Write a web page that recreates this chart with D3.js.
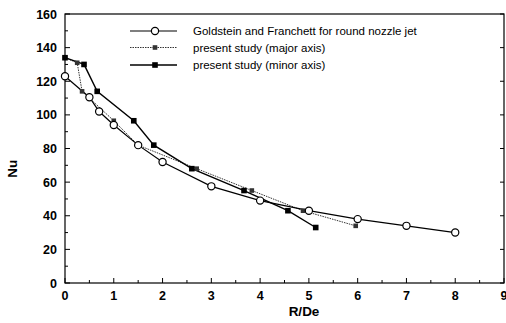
<!DOCTYPE html>
<html>
<head>
<meta charset="utf-8">
<script src="https://cdn.jsdelivr.net/npm/d3@7"></script>
<style>
  body { margin: 0; background: #fff; }
  svg text { font-family: "Liberation Sans", Arial, sans-serif; }
  .tick-lbl { font-weight: bold; font-size: 12.5px; }
</style>
</head>
<body>
<svg id="chart"></svg>
<script>
// values
var goldsteinX = [0, 0.5, 0.7, 1, 1.5, 2, 3, 4, 5, 6, 7, 8];
var goldsteinY = [123, 110.5, 102, 94, 82, 72, 57.5, 49, 43, 38, 34, 30];

var majorX = [0, 0.25, 0.35, 1.0, 1.5, 2.7, 3.83, 4.88, 5.96];
var majorY = [134, 131, 114, 96.5, 82, 68, 55, 43, 34];

var minorX = [0, 0.39, 0.66, 1.41, 1.82, 2.6, 3.67, 4.57, 5.14];
var minorY = [134, 130, 114, 96.5, 82, 68, 55, 43, 33];

var xTicks = [0, 1, 2, 3, 4, 5, 6, 7, 8, 9];
var yTicks = [0, 20, 40, 60, 80, 100, 120, 140, 160];

var legendLabels = [
  "Goldstein and Franchett  for round nozzle jet",
  "present study (major axis)",
  "present study (minor axis)"
];

var totalWidth = 506, totalHeight = 323;
var margin = { top: 14, right: 2, bottom: 40, left: 65 };
var width = totalWidth - margin.left - margin.right;
var height = totalHeight - margin.top - margin.bottom;

var svg = d3.select("#chart")
  .attr("width", totalWidth)
  .attr("height", totalHeight);

var g = svg.append("g")
  .attr("transform", "translate(" + margin.left + "," + margin.top + ")");

var x = d3.scaleLinear().domain([0, 9]).range([0, width]);
var y = d3.scaleLinear().domain([0, 160]).range([height, 0]);

// frame
g.append("rect")
  .attr("width", width)
  .attr("height", height)
  .attr("fill", "none")
  .attr("stroke", "#000")
  .attr("stroke-width", 1.2);

// minor ticks, inside
g.selectAll(".xminor")
  .data(d3.range(0, 9.01, 0.5))
  .enter().append("line")
  .attr("x1", d => x(d)).attr("x2", d => x(d))
  .attr("y1", height).attr("y2", d => height - (d % 1 === 0 ? 5 : 3))
  .attr("stroke", "#000");

g.selectAll(".yminor")
  .data(d3.range(0, 160.1, 10))
  .enter().append("line")
  .attr("x1", 0).attr("x2", d => (d % 20 === 0 ? 5 : 3))
  .attr("y1", d => y(d)).attr("y2", d => y(d))
  .attr("stroke", "#000");

g.selectAll(".yright")
  .data(d3.range(0, 160.1, 20))
  .enter().append("line")
  .attr("x1", width).attr("x2", width - 4)
  .attr("y1", d => y(d)).attr("y2", d => y(d))
  .attr("stroke", "#000");

// tick labels
g.selectAll(".xl")
  .data(xTicks)
  .enter().append("text")
  .attr("class", "tick-lbl")
  .attr("x", d => x(d))
  .attr("y", height + 17)
  .attr("text-anchor", "middle")
  .text(d => d);

g.selectAll(".yl")
  .data(yTicks)
  .enter().append("text")
  .attr("class", "tick-lbl")
  .attr("x", -8)
  .attr("y", d => y(d) + 4.5)
  .attr("text-anchor", "end")
  .text(d => d);

// axis titles
svg.append("text")
  .attr("x", margin.left + x(4.9))
  .attr("y", 316)
  .attr("text-anchor", "middle")
  .style("font-weight", "bold")
  .style("font-size", "13.5px")
  .text("R/De");

svg.append("text")
  .attr("transform", "translate(17," + (margin.top + y(68)) + ") rotate(-90)")
  .attr("text-anchor", "middle")
  .style("font-weight", "bold")
  .style("font-size", "13.5px")
  .text("Nu");

var line = d3.line()
  .x(d => x(d[0]))
  .y(d => y(d[1]));

var goldstein = d3.zip(goldsteinX, goldsteinY);
var major = d3.zip(majorX, majorY);
var minor = d3.zip(minorX, minorY);

// major axis: dotted line, small grey squares
g.append("path")
  .attr("d", line(major))
  .attr("fill", "none")
  .attr("stroke", "#333")
  .attr("stroke-width", 1)
  .attr("stroke-dasharray", "1.5,1");

// minor axis: solid line, black squares
g.append("path")
  .attr("d", line(minor))
  .attr("fill", "none")
  .attr("stroke", "#000")
  .attr("stroke-width", 1.4);

// goldstein: solid line, open circles
g.append("path")
  .attr("d", line(goldstein))
  .attr("fill", "none")
  .attr("stroke", "#000")
  .attr("stroke-width", 1.2);

g.selectAll(".majpt")
  .data(major)
  .enter().append("rect")
  .attr("x", d => x(d[0]) - 2.3)
  .attr("y", d => y(d[1]) - 2.3)
  .attr("width", 4.6).attr("height", 4.6)
  .attr("fill", "#333");

g.selectAll(".minpt")
  .data(minor)
  .enter().append("rect")
  .attr("x", d => x(d[0]) - 2.8)
  .attr("y", d => y(d[1]) - 2.8)
  .attr("width", 5.6).attr("height", 5.6)
  .attr("fill", "#000");

g.selectAll(".goldpt")
  .data(goldstein)
  .enter().append("circle")
  .attr("cx", d => x(d[0]))
  .attr("cy", d => y(d[1]))
  .attr("r", 3.6)
  .attr("fill", "#fff")
  .attr("stroke", "#000")
  .attr("stroke-width", 1.2);

// legend
var legend = svg.append("g").attr("transform", "translate(130,31)");
var rowY = [0, 16.5, 34];

legend.append("line")
  .attr("x1", 0).attr("x2", 47).attr("y1", rowY[0]).attr("y2", rowY[0])
  .attr("stroke", "#000").attr("stroke-width", 1.2);
legend.append("circle")
  .attr("cx", 25).attr("cy", rowY[0]).attr("r", 3.6)
  .attr("fill", "#fff").attr("stroke", "#000").attr("stroke-width", 1.2);

legend.append("line")
  .attr("x1", 0).attr("x2", 47).attr("y1", rowY[1]).attr("y2", rowY[1])
  .attr("stroke", "#333").attr("stroke-width", 1).attr("stroke-dasharray", "1.5,1");
legend.append("rect")
  .attr("x", 22.7).attr("y", rowY[1] - 2.3).attr("width", 4.6).attr("height", 4.6)
  .attr("fill", "#333");

legend.append("line")
  .attr("x1", 0).attr("x2", 47).attr("y1", rowY[2]).attr("y2", rowY[2])
  .attr("stroke", "#000").attr("stroke-width", 1.4);
legend.append("rect")
  .attr("x", 22.2).attr("y", rowY[2] - 2.8).attr("width", 5.6).attr("height", 5.6)
  .attr("fill", "#000");

legend.selectAll(".ltxt")
  .data(legendLabels)
  .enter().append("text")
  .attr("x", 63)
  .attr("y", (d, i) => rowY[i] + 4)
  .style("font-size", "11.5px")
  .text(d => d);
</script>
</body>
</html>
